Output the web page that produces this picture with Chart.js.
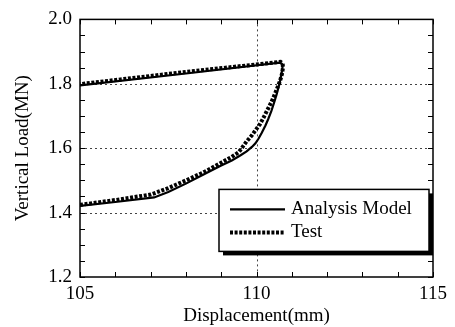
<!DOCTYPE html>
<html>
<head>
<meta charset="utf-8">
<script src="https://cdn.jsdelivr.net/npm/chart.js@4.4.0/dist/chart.umd.min.js"></script>
<style>
html,body{margin:0;padding:0;background:#fff;}
#wrap{width:455px;height:327px;position:relative;}
</style>
</head>
<body>
<div id="wrap"><canvas id="c" width="455" height="327"></canvas></div>
<script>
// ---- data ----
const analysisX = [105, 106, 107.1, 107.5, 108, 108.5, 109, 109.3, 109.55, 109.72, 109.87, 109.97, 110.06, 110.15, 110.25, 110.33, 110.42, 110.5, 110.57, 110.63, 110.68, 110.72, 110.74, 110.72, 110.65, 108, 105];
const analysisY = [1.421, 1.433, 1.447, 1.464, 1.49, 1.518, 1.546, 1.562, 1.578, 1.590, 1.604, 1.615, 1.630, 1.648, 1.670, 1.690, 1.715, 1.742, 1.767, 1.792, 1.815, 1.838, 1.855, 1.862, 1.866, 1.832, 1.795];
const testX = [105, 106, 107, 107.5, 108, 108.5, 109, 109.3, 109.5, 109.72, 109.87, 110, 110.1, 110.19, 110.3, 110.43, 110.52, 110.6, 110.67, 110.72, 110.75, 110.74, 110.68, 108, 105];
const testY = [1.424, 1.439, 1.456, 1.476, 1.5, 1.525, 1.555, 1.573, 1.588, 1.621, 1.640, 1.660, 1.675, 1.693, 1.717, 1.745, 1.768, 1.790, 1.810, 1.830, 1.850, 1.863, 1.868, 1.837, 1.799];
const xTickLabels = ["105", "110", "115"];
const yTickLabels = ["1.2", "1.4", "1.6", "1.8", "2.0"];
const xGridAt = [110];
const yGridAt = [1.4, 1.6, 1.8];
const seriesNames = ["Analysis Model", "Test"];

const FONT = "'Liberation Serif','Times New Roman',serif";

function pts(xs, ys){ return xs.map((x,i)=>({x:x, y:ys[i]})); }

const framePlugin = {
  id: 'frame',
  beforeDatasetsDraw(chart){
    const {ctx, chartArea:a, scales:{x, y}} = chart;
    ctx.save();
    // dashed grid
    ctx.strokeStyle = '#444';
    ctx.lineWidth = 1;
    ctx.setLineDash([2,3]);
    yGridAt.forEach(v=>{
      const py = Math.round(y.getPixelForValue(v))+0.5;
      ctx.beginPath(); ctx.moveTo(a.left, py); ctx.lineTo(a.right, py); ctx.stroke();
    });
    xGridAt.forEach(v=>{
      const px = Math.round(x.getPixelForValue(v))+0.5;
      ctx.beginPath(); ctx.moveTo(px, a.top); ctx.lineTo(px, a.bottom); ctx.stroke();
    });
    ctx.setLineDash([]);
    // inward ticks
    ctx.strokeStyle = '#000';
    ctx.lineWidth = 1;
    const tl = 5;
    for(let v=x.min; v<=x.max+1e-9; v+=1){
      const px = Math.round(x.getPixelForValue(v))+0.5;
      ctx.beginPath();
      ctx.moveTo(px, a.bottom); ctx.lineTo(px, a.bottom-tl);
      ctx.moveTo(px, a.top); ctx.lineTo(px, a.top+tl);
      ctx.stroke();
    }
    for(let v=y.min; v<=y.max+1e-9; v+=0.05){
      const py = Math.round(y.getPixelForValue(v))+0.5;
      ctx.beginPath();
      ctx.moveTo(a.left, py); ctx.lineTo(a.left+tl, py);
      ctx.moveTo(a.right, py); ctx.lineTo(a.right-tl, py);
      ctx.stroke();
    }
    // frame
    ctx.lineWidth = 1.5;
    ctx.strokeStyle = '#000';
    ctx.strokeRect(a.left, a.top, a.right-a.left, a.bottom-a.top);
    ctx.restore();
  },
  afterDatasetsDraw(chart){
    const {ctx, chartArea:a} = chart;
    ctx.save();
    // legend box
    const bx = a.left + 139, by = a.top + 170, bw = 210, bh = 62, sh = 4;
    ctx.fillStyle = '#000';
    ctx.fillRect(bx+sh, by+sh, bw, bh);
    ctx.fillStyle = '#fff';
    ctx.fillRect(bx, by, bw, bh);
    ctx.strokeStyle = '#000';
    ctx.lineWidth = 1.5;
    ctx.strokeRect(bx, by, bw, bh);
    const ds = chart.data.datasets;
    const rows = [by+20, by+43];
    ds.forEach((d,i)=>{
      ctx.strokeStyle = d.borderColor;
      ctx.lineWidth = d.borderWidth;
      ctx.setLineDash(d.borderDash || []);
      ctx.beginPath(); ctx.moveTo(bx+11, rows[i]); ctx.lineTo(bx+66, rows[i]); ctx.stroke();
      ctx.setLineDash([]);
      ctx.fillStyle = '#000';
      ctx.font = "19px " + FONT;
      ctx.textBaseline = 'middle';
      ctx.textAlign = 'left';
      ctx.fillText(d.label, bx+72, rows[i]);
    });
    ctx.restore();
  }
};

new Chart(document.getElementById('c'), {
  type: 'scatter',
  data: {
    datasets: [
      { label: seriesNames[0], data: pts(analysisX, analysisY), showLine: true, borderColor: '#000', borderWidth: 2.2, pointRadius: 0, tension: 0, order: 1 },
      { label: seriesNames[1], data: pts(testX, testY), showLine: true, borderColor: '#000', borderWidth: 4, borderDash: [3,1.6], pointRadius: 0, tension: 0, order: 2 }
    ]
  },
  plugins: [framePlugin],
  options: {
    responsive: false,
    animation: false,
    devicePixelRatio: 1,
    layout: { padding: { top: 17, right: 22, left: 0, bottom: 0 } },
    plugins: { legend: { display: false }, tooltip: { enabled: false } },
    scales: {
      x: {
        type: 'linear', min: 105, max: 115,
        afterFit(s){ s.height = 50; },
        grid: { display: false, drawTicks: false },
        border: { display: false },
        ticks: {
          stepSize: 5, padding: 6, color: '#000', maxRotation: 0,
          font: { family: FONT, size: 19 },
          callback(v){ const i = [105,110,115].indexOf(v); return i>=0 ? xTickLabels[i] : ''; }
        },
        title: { display: true, text: 'Displacement(mm)', color: '#000', font: { family: FONT, size: 19 }, padding: { top: 0, bottom: 0 } }
      },
      y: {
        type: 'linear', min: 1.2, max: 2.0,
        afterFit(s){ s.width = 80; },
        grid: { display: false, drawTicks: false },
        border: { display: false },
        ticks: {
          stepSize: 0.2, padding: 8, color: '#000',
          font: { family: FONT, size: 19 },
          callback(v){ const i = Math.round((v-1.2)/0.2); return (Math.abs(v-(1.2+i*0.2))<1e-6 && yTickLabels[i]) ? yTickLabels[i] : ''; }
        },
        title: { display: true, text: 'Vertical Load(MN)', color: '#000', font: { family: FONT, size: 19 }, padding: { top: 12, bottom: 0 } }
      }
    }
  }
});
</script>
</body>
</html>
